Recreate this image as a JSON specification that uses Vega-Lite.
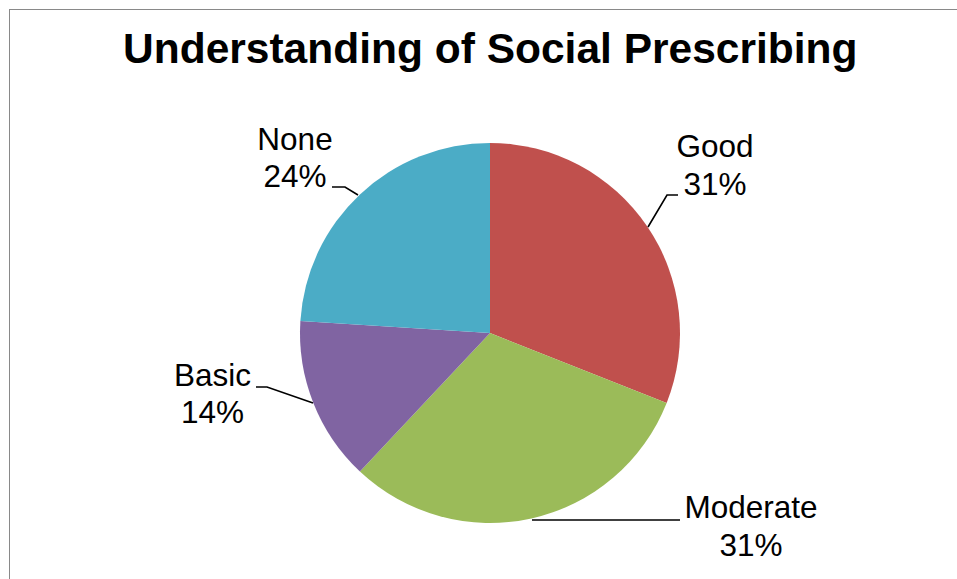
{
  "$schema": "https://vega.github.io/schema/vega-lite/v6.json",
  "width": 947.5,
  "height": 569.5,
  "autosize": {"type": "none"},
  "padding": {"left": 9.5, "top": 9.5, "right": 0, "bottom": 0},
  "background": "white",
  "config": {"view": {"stroke": null}, "font": "Liberation Sans"},
  "title": {
    "text": "Understanding of Social Prescribing",
    "fontSize": 42.5,
    "fontWeight": "bold",
    "font": "Liberation Sans",
    "color": "black",
    "anchor": "middle",
    "frame": "group",
    "offset": -96,
    "dx": 7,
    "baseline": "alphabetic"
  },
  "datasets": {
    "slices": [
      {"category": "Good", "share": 31, "rank": 1},
      {"category": "Moderate", "share": 31, "rank": 2},
      {"category": "Basic", "share": 14, "rank": 3},
      {"category": "None", "share": 24, "rank": 4}
    ],
    "leaders": [
      {"category": "Good", "step": 1, "u": 0.8316, "v": 0.5579},
      {"category": "Good", "step": 2, "u": 0.9316, "v": 0.7263},
      {"category": "Good", "step": 3, "u": 0.9895, "v": 0.7263},
      {"category": "None", "step": 1, "u": -0.6947, "v": 0.7263},
      {"category": "None", "step": 2, "u": -0.7632, "v": 0.7684},
      {"category": "None", "step": 3, "u": -0.8316, "v": 0.7684},
      {"category": "Basic", "step": 1, "u": -0.9316, "v": -0.3684},
      {"category": "Basic", "step": 2, "u": -1.1737, "v": -0.2842},
      {"category": "Basic", "step": 3, "u": -1.2316, "v": -0.2842},
      {"category": "Moderate", "step": 1, "u": 0.2211, "v": -0.9842},
      {"category": "Moderate", "step": 2, "u": 1.0, "v": -0.9842}
    ],
    "labels": [
      {"category": "Good", "lines": ["Good", "31%"], "u": 1.1842, "v": 0.9263},
      {"category": "None", "lines": ["None", "24%"], "u": -1.0263, "v": 0.9632},
      {"category": "Basic", "lines": ["Basic", "14%"], "u": -1.4605, "v": -0.2789},
      {"category": "Moderate", "lines": ["Moderate", "31%"], "u": 1.3737, "v": -0.9737}
    ]
  },
  "layer": [
    {
      "data": {"name": "slices"},
      "mark": {"type": "rule", "color": "#898989", "strokeWidth": 1},
      "encoding": {
        "x": {"datum": -2.5289, "type": "quantitative", "scale": {"domain": [-2.5289, 2.4579], "nice": false, "zero": false}, "axis": null},
        "y": {"datum": -1.2947, "type": "quantitative", "scale": {"domain": [-1.2947, 1.7026], "nice": false, "zero": false}, "axis": null},
        "y2": {"datum": 1.7026}
      }
    },
    {
      "data": {"name": "slices"},
      "mark": {"type": "rule", "color": "#898989", "strokeWidth": 1},
      "encoding": {
        "x": {"datum": -2.5289, "type": "quantitative", "scale": {"domain": [-2.5289, 2.4579], "nice": false, "zero": false}, "axis": null},
        "x2": {"datum": 2.4579},
        "y": {"datum": 1.7026, "type": "quantitative", "scale": {"domain": [-1.2947, 1.7026], "nice": false, "zero": false}, "axis": null}
      }
    },
    {
      "data": {"name": "slices"},
      "mark": {"type": "arc", "outerRadius": 190},
      "encoding": {
        "theta": {"field": "share", "type": "quantitative", "stack": true},
        "order": {"field": "rank", "type": "quantitative"},
        "color": {
          "field": "category",
          "type": "nominal",
          "scale": {"domain": ["Good", "Moderate", "Basic", "None"], "range": ["#C0504D", "#9BBB59", "#8064A2", "#4BACC6"]},
          "legend": null
        },
        "x": {"datum": 0, "type": "quantitative", "scale": {"domain": [-2.5289, 2.4579], "nice": false, "zero": false}, "axis": null},
        "y": {"datum": 0, "type": "quantitative", "scale": {"domain": [-1.2947, 1.7026], "nice": false, "zero": false}, "axis": null}
      }
    },
    {
      "data": {"name": "leaders"},
      "mark": {"type": "line", "color": "black", "strokeWidth": 1.6},
      "encoding": {
        "x": {"field": "u", "type": "quantitative", "scale": {"domain": [-2.5289, 2.4579], "nice": false, "zero": false}, "axis": null},
        "y": {"field": "v", "type": "quantitative", "scale": {"domain": [-1.2947, 1.7026], "nice": false, "zero": false}, "axis": null},
        "detail": {"field": "category", "type": "nominal"},
        "order": {"field": "step", "type": "quantitative"}
      }
    },
    {
      "data": {"name": "labels"},
      "mark": {"type": "text", "fontSize": 31.5, "align": "center", "baseline": "alphabetic", "lineHeight": 37.5, "color": "black", "font": "Liberation Sans"},
      "encoding": {
        "x": {"field": "u", "type": "quantitative", "scale": {"domain": [-2.5289, 2.4579], "nice": false, "zero": false}, "axis": null},
        "y": {"field": "v", "type": "quantitative", "scale": {"domain": [-1.2947, 1.7026], "nice": false, "zero": false}, "axis": null},
        "text": {"field": "lines"}
      }
    }
  ]
}
